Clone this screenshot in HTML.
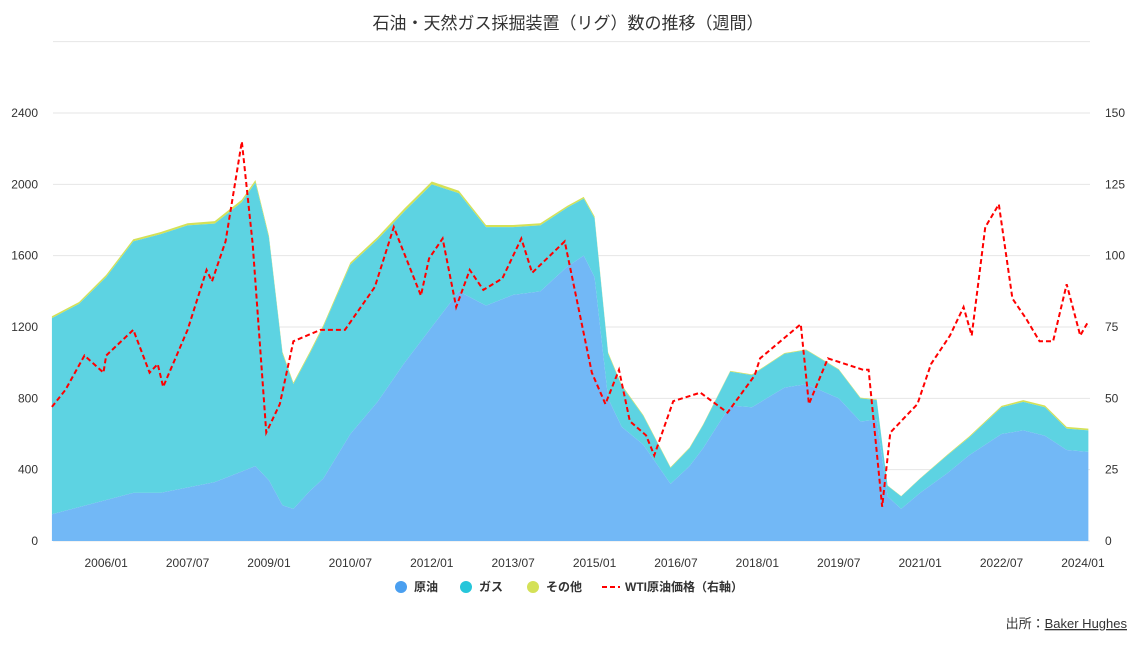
<!DOCTYPE html>
<html><head><meta charset="utf-8">
<style>
html,body{margin:0;padding:0;background:#fff;width:1137px;height:646px;overflow:hidden}
body{font-family:"Liberation Sans","Noto Sans CJK JP",sans-serif}
svg text{font-family:"Liberation Sans","Noto Sans CJK JP",sans-serif}
</style></head>
<body>
<svg id="chart" width="1137" height="646" xmlns="http://www.w3.org/2000/svg">
<text x="568" y="29" text-anchor="middle" font-size="17" fill="#333">石油・天然ガス採掘装置（リグ）数の推移（週間）</text>
<g id="grid"></g><g id="areas"></g><g id="line"></g><g id="axes"></g>
<g font-size="12" font-weight="bold" fill="#333">
<g><circle cx="401" cy="587" r="6" fill="#4a9ff0"/><text x="414" y="591">原油</text></g>
<g><circle cx="466" cy="587" r="6" fill="#26c6da"/><text x="479" y="591">ガス</text></g>
<g><circle cx="533" cy="587" r="6" fill="#d4e157"/><text x="546" y="591">その他</text></g>
<g><line x1="602" y1="587" x2="620" y2="587" stroke="#f00" stroke-width="2" stroke-dasharray="5,3"/><text x="625" y="591">WTI原油価格（右軸）</text></g>
</g>
<text x="1127" y="628" text-anchor="end" font-size="13" fill="#333">出所：<tspan text-decoration="underline">Baker Hughes</tspan></text>
</svg>
<script>
const rigDates=[2005.0,2005.5,2006.0,2006.5,2007.0,2007.5,2008.0,2008.5,2008.75,2009.0,2009.25,2009.45,2009.75,2010.0,2010.5,2011.0,2011.5,2012.0,2012.5,2013.0,2013.5,2014.0,2014.5,2014.8,2015.0,2015.25,2015.5,2015.9,2016.4,2016.75,2017.0,2017.5,2017.9,2018.5,2018.9,2019.5,2019.9,2020.2,2020.4,2020.65,2021.0,2021.5,2021.9,2022.5,2022.9,2023.3,2023.7,2024.1];
const oilRigs=[150,190,230,270,270,300,330,390,420,340,200,180,280,350,600,780,1000,1200,1400,1320,1380,1400,1540,1600,1480,800,640,540,320,420,520,760,750,860,880,800,670,680,250,180,270,380,480,600,620,590,510,500];
const totalRigs=[1250,1330,1480,1680,1720,1770,1780,1900,2010,1700,1050,880,1050,1200,1550,1690,1850,2000,1950,1760,1760,1770,1870,1920,1810,1050,870,700,410,520,650,950,930,1050,1070,960,800,790,310,250,350,480,580,750,780,750,630,620];
const otherRigs=[10,10,12,12,12,12,14,14,14,12,10,8,10,10,12,14,16,16,14,12,12,12,10,10,10,8,6,6,4,4,4,4,4,4,4,4,4,4,2,2,2,4,6,8,10,10,10,10];
const wtiDates=[2005.0,2005.25,2005.6,2005.95,2006.0,2006.5,2006.8,2006.95,2007.05,2007.5,2007.85,2007.95,2008.2,2008.5,2008.7,2008.95,2009.2,2009.45,2009.95,2010.4,2010.95,2011.3,2011.8,2011.95,2012.2,2012.45,2012.7,2012.95,2013.3,2013.65,2013.85,2014.45,2014.95,2015.2,2015.45,2015.65,2015.95,2016.1,2016.45,2016.95,2017.45,2017.95,2018.05,2018.8,2018.95,2019.3,2019.95,2020.05,2020.3,2020.45,2020.95,2021.2,2021.55,2021.8,2021.95,2022.2,2022.45,2022.7,2022.95,2023.2,2023.45,2023.7,2023.95,2024.1];
const wtiValues=[47,53,65,59,65,74,59,62,54,74,95,91,105,140,104,38,48,70,74,74,89,110,86,99,106,82,95,88,92,106,94,105,59,48,60,42,37,30,49,52,45,58,64,76,48,64,60,60,12,38,48,62,72,82,72,110,118,85,78,70,70,90,72,77];
const rightTicks=[0,25,50,75,100,125,150];
const leftTicks=[0,400,800,1200,1600,2000,2400];
const xTickLabels=["2006/01","2007/07","2009/01","2010/07","2012/01","2013/07","2015/01","2016/07","2018/01","2019/07","2021/01","2022/07","2024/01"];
const xTickValues=[2006.0,2007.5,2009.0,2010.5,2012.0,2013.5,2015.0,2016.5,2018.0,2019.5,2021.0,2022.5,2024.0];

const NS="http://www.w3.org/2000/svg";
const X0=53,X1=1090,Y0=541,Y1=113,T0=2005.02,T1=2024.13;
const x=t=>X0+(t-T0)/(T1-T0)*(X1-X0);
const yL=v=>Y0-v/2400*(Y0-Y1);
const yR=v=>Y0-v/150*(Y0-Y1);
function mk(tag,attrs,parent){const e=document.createElementNS(NS,tag);for(const k in attrs)e.setAttribute(k,attrs[k]);parent.appendChild(e);return e;}
const grid=document.getElementById('grid'),areas=document.getElementById('areas'),lineG=document.getElementById('line'),axes=document.getElementById('axes');
[0,400,800,1200,1600,2000,2400,2800].forEach(v=>{
  const l=mk('line',{x1:X0,x2:X1,y1:yL(v),y2:yL(v),stroke:'#e6e6e6','stroke-width':1},grid);
  
  
});
leftTicks.forEach(v=>{
  const t=mk('text',{x:38,y:yL(v)+4,'text-anchor':'end','font-size':12,fill:'#333'},axes);t.textContent=v;
  
  
});
rightTicks.forEach(v=>{
  const t=mk('text',{x:1105,y:yR(v)+4,'text-anchor':'start','font-size':12,fill:'#333'},axes);t.textContent=v;
  
  
});
xTickValues.forEach((v,i)=>{
  const t=mk('text',{x:x(v),y:567,'text-anchor':'middle','font-size':12,fill:'#333'},axes);t.textContent=xTickLabels[i];
  
  
});
function area(lo,hi,fill,name){
  let d='M'+x(rigDates[0])+','+yL(hi[0]);
  for(let i=1;i<rigDates.length;i++)d+='L'+x(rigDates[i])+','+yL(hi[i]);
  for(let i=rigDates.length-1;i>=0;i--)d+='L'+x(rigDates[i])+','+yL(lo[i]);
  const p=mk('path',{d:d+'Z',fill:fill},areas);
  
  
}
const zeros=rigDates.map(()=>0);
const withOther=totalRigs.map((v,i)=>v+otherRigs[i]);
area(totalRigs,withOther,'#d4e157','area-other');
area(oilRigs,totalRigs,'#5dd3e2','area-gas');
area(zeros,oilRigs,'#72b8f6','area-oil');
let d='';wtiDates.forEach((t,i)=>{d+=(i?'L':'M')+x(t)+','+yR(wtiValues[i]);});
const wl=mk('path',{d:d,fill:'none',stroke:'#f00','stroke-width':2,'stroke-dasharray':'5,3'},lineG);


</script>
</body></html>
